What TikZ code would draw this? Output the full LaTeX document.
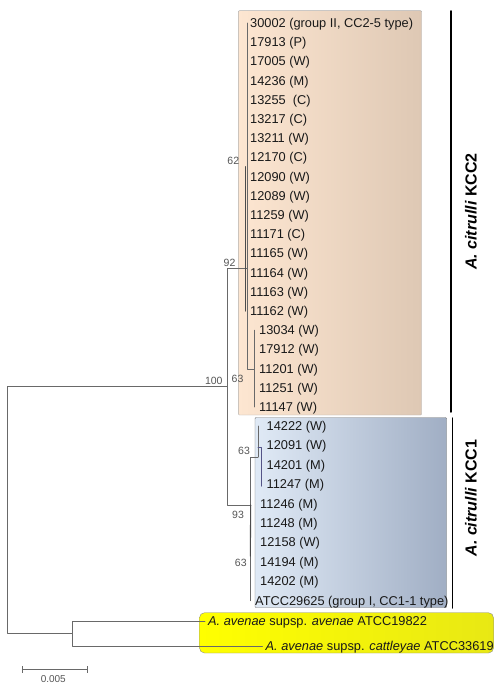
\documentclass[tikz,border=0pt]{standalone}
\usepackage{fontspec}
\setmainfont{Liberation Sans}
\definecolor{peachleft}{RGB}{253,230,209}
\definecolor{peachright}{RGB}{222,200,180}
\definecolor{blueleft}{RGB}{224,234,246}
\definecolor{blueright}{RGB}{160,174,196}
\definecolor{yelleft}{RGB}{255,255,0}
\definecolor{yelright}{RGB}{232,232,20}
\definecolor{treegray}{RGB}{105,105,105}
\definecolor{bootgray}{RGB}{85,85,85}

\begin{document}
\begin{tikzpicture}[x=1pt,y=-1pt,line cap=round,line join=round,
    branch/.style={draw=treegray,line width=0.8pt},
    leaf/.style={anchor=west,inner sep=0pt,text height=9pt,text depth=0pt,text=black!90,font=\fontsize{12.8}{14}\selectfont},
    outleaf/.style={leaf,inner xsep=3pt},
    boot/.style={inner sep=0pt,text=bootgray,font=\fontsize{10.5}{12}\selectfont},
    clade/.style={rotate=90,font=\fontsize{16}{18}\selectfont\bfseries}]
        \useasboundingbox (0,0) rectangle (495,684);

        % Cajas
        \draw[left color=peachleft,right color=peachright,draw=black!30,rounded corners=1pt] (238.3,10.7) rectangle (421.7,415);
        \draw[left color=blueleft,right color=blueright,draw=black!55,rounded corners=1pt] (255,417.5) rectangle (446.7,607.7);
        \draw[left color=yelleft,right color=yelright,draw=black!45,rounded corners=5pt] (199.5,612.7) rectangle (493.5,653);

        % Nodos internos
        \coordinate (root) at (7,510);
        \coordinate (n100) at (227,386);
        \coordinate (nKCC2) at (247,268);
        \coordinate (n62) at (245.8,240);
        \coordinate (nSub63) at (254,369);
        \coordinate (nKCC1) at (250.7,505);
        \coordinate (n63low) at (250.3,556);
        \coordinate (nUp63) at (258,457);
        \coordinate (nIn) at (261.3,447);
        \coordinate (nOut) at (72,633.5);

        % KCC2
        \node[leaf] (s30002) at (250,23.0) {30002 (group II, CC2-5 type)};
        \node[leaf] (s17913) at (250,42.2) {17913 (P)};
        \node[leaf] (s17005) at (250,61.4) {17005 (W)};
        \node[leaf] (s14236) at (250,80.6) {14236 (M)};
        \node[leaf] (s13255) at (250,99.8) {13255 \ (C)};
        \node[leaf] (s13217) at (250,119.0) {13217 (C)};
        \node[leaf] (s13211) at (250,138.2) {13211 (W)};
        \node[leaf] (s12170) at (250,157.4) {12170 (C)};
        \node[leaf] (s12090) at (250,176.6) {12090 (W)};
        \node[leaf] (s12089) at (250,195.8) {12089 (W)};
        \node[leaf] (s11259) at (250,215.0) {11259 (W)};
        \node[leaf] (s11171) at (250,234.2) {11171 (C)};
        \node[leaf] (s11165) at (250,253.4) {11165 (W)};
        \node[leaf] (s11164) at (250,272.6) {11164 (W)};
        \node[leaf] (s11163) at (250,291.8) {11163 (W)};
        \node[leaf] (s11162) at (250,311.0) {11162 (W)};
        \node[leaf] (s13034) at (259,330.2) {13034 (W)};
        \node[leaf] (s17912) at (259,349.4) {17912 (W)};
        \node[leaf] (s11201) at (259,368.6) {11201 (W)};
        \node[leaf] (s11251) at (259,387.8) {11251 (W)};
        \node[leaf] (s11147) at (259,407.0) {11147 (W)};

        % KCC1
        \node[leaf] (s14222) at (266.5,426.0) {14222 (W)};
        \node[leaf] (s12091) at (266.5,445.4) {12091 (W)};
        \node[leaf] (s14201) at (266.5,464.8) {14201 (M)};
        \node[leaf] (s11247) at (266.5,484.2) {11247 (M)};
        \node[leaf] (s11246) at (260,503.6) {11246 (M)};
        \node[leaf] (s11248) at (260,523.0) {11248 (M)};
        \node[leaf] (s12158) at (260,542.4) {12158 (W)};
        \node[leaf] (s14194) at (260,561.8) {14194 (M)};
        \node[leaf] (s14202) at (260,581.2) {14202 (M)};
        \node[leaf] (sATCC) at (255,600.6) {ATCC29625 (group I, CC1-1 type)};

        % Grupo externo
        \node[outleaf] (sAvenae) at (205,621) {\textit{A. avenae} supsp. \textit{avenae} ATCC19822};
        \node[outleaf] (sCattleyae) at (262.5,646) {\textit{A. avenae} supsp. \textit{cattleyae} ATCC33619};

        % Ramas
        \draw[branch] (root) |- (n100);
        \draw[branch] (root) |- (nOut);
        \draw[branch] (n100) |- (nKCC2);
        \draw[branch] (n100) |- (nKCC1);
        \draw[branch] (nKCC2 |- s30002) -- (nKCC2);
        \draw[branch] (nKCC2) |- (nSub63);
        \draw[branch,line width=1.1pt,draw=black!70,shorten <=-10pt] (n62 |- s12090) -- (n62 |- s11162);
        \draw[branch] (nSub63 |- s13034) -- (nSub63 |- s11147);
        \draw[branch] (nKCC1) |- (nUp63);
        \draw[branch] (nKCC1) -- (nKCC1 |- sATCC);
        \draw[branch,line width=1.1pt,draw=black!70] (nKCC1) -- (n63low);
        \draw[branch] (nUp63) -- (nUp63 |- s14222);
        \draw[branch,draw=treegray!80!blue] (nUp63 |- nIn) -- (nIn) -- ([yshift=-2pt]nIn |- s11247);
        \draw[branch] (nOut) |- (sAvenae);
        \draw[branch] (nOut) |- (sCattleyae);

        % Bootstrap
        \node[boot] (b62) at (233.3,160.7) {62};
        \node[boot] (b92) at (229.5,263.3) {92};
        \node[boot] (b100) at (213.8,381) {100};
        \node[boot] (b63a) at (237.5,379.3) {63};
        \node[boot] (b63b) at (244,451) {63};
        \node[boot] (b93) at (238,515) {93};
        \node[boot] (b63c) at (240.8,562.5) {63};

        % Barras de clado
        \coordinate (kcc2top) at (451,11);
        \coordinate (kcc2bot) at (451,412);
        \coordinate (kcc1top) at (452.5,418);
        \coordinate (kcc1bot) at (452.5,608);
        \draw[line width=1.5pt] (kcc2top) -- (kcc2bot);
        \draw[line width=1.5pt] (kcc1top) -- (kcc1bot);
        \node[clade] (lKCC2) at (471,211.5) {\textit{A. citrulli} KCC2};
        \node[clade] (lKCC1) at (471,498) {\textit{A. citrulli} KCC1};

        % Escala
        \coordinate (scaleL) at (21.7,669.3);
        \coordinate (scaleR) at (87.7,669.3);
        \draw[|-|,draw=treegray,line width=0.8pt] (scaleL) -- (scaleR);
        \node[boot,font=\fontsize{10}{12}\selectfont] (lScale) at (53.3,679.3) {0.005};
    \end{tikzpicture}
\end{document}
